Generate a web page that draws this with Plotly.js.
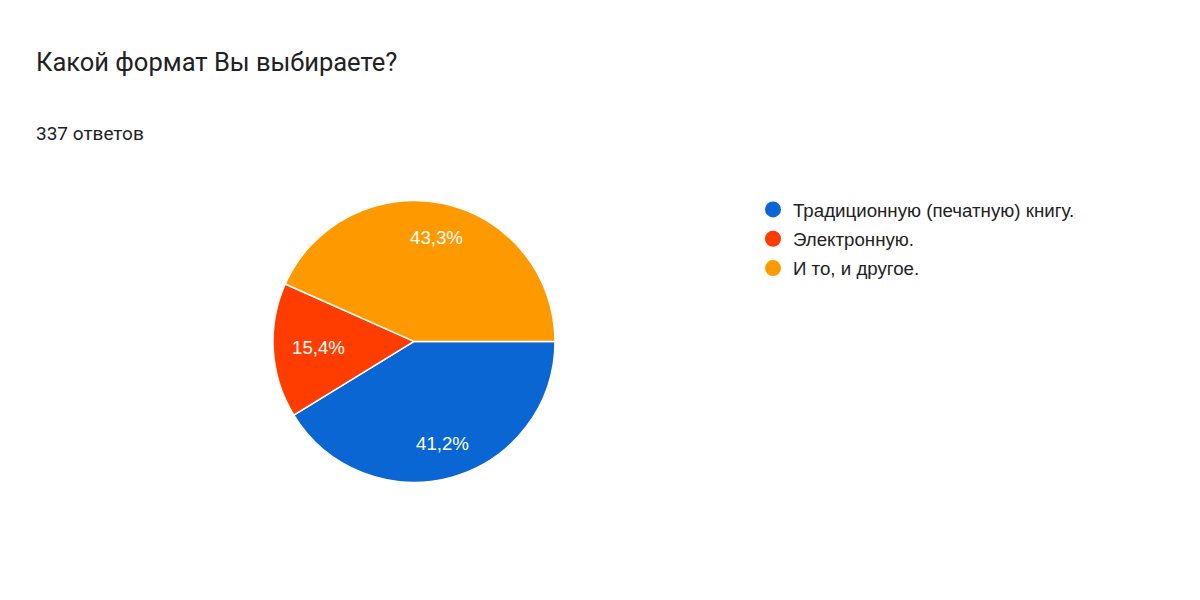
<!DOCTYPE html>
<html lang="ru">
  <head>
    <meta charset="UTF-8" />
    <title>Какой формат Вы выбираете?</title>
    <script src="https://cdn.plot.ly/plotly-3.0.1.min.js"></script>
    <style>
      body {
        margin: 0;
        background: #ffffff;
      }
      #chart {
        width: 1200px;
        height: 600px;
      }
    </style>
  </head>
  <body>
    <div id="chart"></div>
    <script>
      // answers to the survey question
      const categories = [
        "Традиционную (печатную) книгу.",
        "Электронную.",
        "И то, и другое.",
      ];
      const counts = [139, 52, 146];
      const colors = ["#0a66d2", "#ff3d00", "#ff9900"];

      const questionTitle = "Какой формат Вы выбираете?";
      const answersLabel = "337 ответов";

      const W = 1200,
        H = 600;
      const pieDomain = { x: [0.2275, 0.4625], y: [0.195, 0.667] };
      const labelFont = "Liberation Sans, Arial, sans-serif";

      const pie = {
        type: "pie",
        labels: categories,
        values: counts,
        sort: false,
        direction: "clockwise",
        rotation: 90,
        marker: { colors: colors, line: { color: "#ffffff", width: 1.5 } },
        textinfo: "none",
        hoverinfo: "label+value+percent",
        showlegend: false,
        domain: pieDomain,
      };

      // legend entries drawn as round markers
      const legendTraces = categories.map((name, i) => ({
        type: "scatter",
        mode: "markers",
        x: [null],
        y: [null],
        name: name,
        legendgroup: "g" + i,
        marker: { color: colors[i], size: 18, symbol: "circle" },
        hoverinfo: "skip",
      }));

      // percent labels along each slice's bisector, pulled in so they stay inside the circle
      const total = counts.reduce((a, b) => a + b, 0);
      const cx = ((pieDomain.x[0] + pieDomain.x[1]) / 2) * W;
      const cy = (1 - (pieDomain.y[0] + pieDomain.y[1]) / 2) * H;
      const r = ((pieDomain.x[1] - pieDomain.x[0]) * W) / 2;
      const halfW = 27,
        halfH = 9;
      let start = 90;
      const pctLabels = counts.map((v) => {
        const span = (v / total) * 360;
        const mid = ((start + span / 2) * Math.PI) / 180;
        start += span;
        let k = 0.75,
          px,
          py;
        while (true) {
          px = cx + Math.sin(mid) * r * k;
          py = cy - Math.cos(mid) * r * k;
          const fx = Math.abs(px - cx) + halfW;
          const fy = Math.abs(py - cy) + halfH;
          if (Math.hypot(fx, fy) <= r * 0.88 || k < 0.3) break;
          k -= 0.01;
        }
        const pct = ((v / total) * 100).toFixed(1).replace(".", ",") + "%";
        return {
          text: pct,
          xref: "paper",
          yref: "paper",
          x: px / W,
          y: 1 - py / H,
          xanchor: "center",
          yanchor: "middle",
          showarrow: false,
          font: { family: labelFont, size: 18.7, color: "#ffffff" },
        };
      });

      const layout = {
        width: W,
        height: H,
        margin: { l: 0, r: 0, t: 0, b: 0 },
        paper_bgcolor: "#ffffff",
        plot_bgcolor: "#ffffff",
        xaxis: { visible: false },
        yaxis: { visible: false },
        showlegend: true,
        legend: {
          x: 0.6275,
          y: 0.682,
          xanchor: "left",
          yanchor: "top",
          traceorder: "grouped",
          tracegroupgap: 2,
          font: { family: labelFont, size: 18.7, color: "#222222" },
          itemsizing: "trace",
          bgcolor: "rgba(0,0,0,0)",
        },
        annotations: [
          {
            text: questionTitle,
            xref: "paper",
            yref: "paper",
            x: 0.028,
            y: 1 - 62 / H,
            xanchor: "left",
            yanchor: "middle",
            showarrow: false,
            font: { family: "Roboto, sans-serif", size: 25.5, color: "#202124" },
          },
          {
            text: answersLabel,
            xref: "paper",
            yref: "paper",
            x: 0.028,
            y: 1 - 133 / H,
            xanchor: "left",
            yanchor: "middle",
            showarrow: false,
            font: { family: "Roboto, sans-serif", size: 19, color: "#202124" },
          },
        ].concat(pctLabels),
      };

      Plotly.newPlot("chart", [pie].concat(legendTraces), layout, {
        displayModeBar: false,
        staticPlot: true,
      });
    </script>
  </body>
</html>
